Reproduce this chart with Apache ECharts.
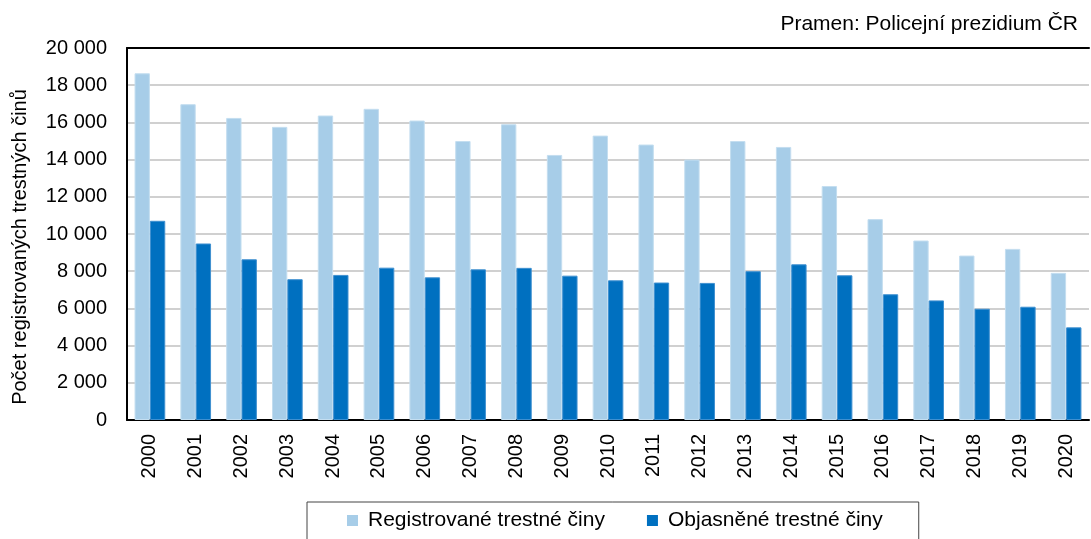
<!DOCTYPE html>
<html><head><meta charset="utf-8">
<script src="https://cdn.jsdelivr.net/npm/echarts@6/dist/echarts.min.js"></script>
<style>html,body{margin:0;padding:0;background:#fff}#c{width:1091px;height:539px}</style>
</head><body><div id="c"></div>
<script>
const years = ['2000','2001','2002','2003','2004','2005','2006','2007','2008','2009','2010','2011','2012','2013','2014','2015','2016','2017','2018','2019','2020'];
const registrovane = [18640,16980,16240,15760,16370,16730,16100,15000,15900,14250,15290,14810,14000,15000,14680,12580,10800,9650,8840,9200,7910];
const objasnene = [10710,9490,8640,7570,7800,8190,7670,8100,8180,7760,7510,7390,7370,8000,8370,7780,6760,6430,5980,6090,4980];
const seriesNames = ['Registrované trestné činy','Objasněné trestné činy'];
const yTicks = {min:0, max:20000, interval:2000};
const sourceText = 'Pramen: Policejní prezidium ČR';
const yTitle = 'Počet registrovaných trestných činů';

const font = 'Liberation Sans, Arial, sans-serif';
const fmt = v => String(v).replace(/\B(?=(\d{3})+(?!\d))/g, ' ');
const chart = echarts.init(document.getElementById('c'));
chart.setOption({
  animation:false,
  textStyle:{fontFamily:font},
  title:{text:sourceText, right:8, top:9, textStyle:{fontSize:21, fontWeight:'normal', color:'#000', fontFamily:font}},
  legend:{
    data:seriesNames, left:307, top:502, orient:'horizontal',
    borderColor:'#444', borderWidth:1, padding:[8,36,20,40],
    itemWidth:11, itemHeight:11, itemGap:42, icon:'rect',
    itemStyle:{borderWidth:0},
    textStyle:{fontSize:21, color:'#000', fontFamily:font, padding:[0,0,0,5]}
  },
  graphic:[{
    type:'text', x:20, y:247, rotation:Math.PI/2,
    style:{text:yTitle, fontSize:20, fill:'#000', fontFamily:font, align:'center', verticalAlign:'middle'}
  }],
  grid:{left:127, right:2, top:48, bottom:119, containLabel:false},
  xAxis:[{
    type:'category', data:years,
    axisLine:{lineStyle:{color:'#000', width:2}},
    axisTick:{show:false},
    axisLabel:{rotate:90, fontSize:20, color:'#000', margin:14, fontFamily:font}
  },{
    type:'category', data:years, position:'top',
    axisLine:{show:true, lineStyle:{color:'#000', width:2}},
    axisTick:{show:false}, axisLabel:{show:false}
  }],
  yAxis:{
    type:'value', min:yTicks.min, max:yTicks.max, interval:yTicks.interval,
    axisLine:{show:true, lineStyle:{color:'#000', width:2}},
    axisTick:{show:false},
    axisLabel:{fontSize:20, color:'#000', margin:20, formatter:fmt, fontFamily:font},
    splitLine:{lineStyle:{color:'#d0d0d0', width:2}}
  },
  series:[
    {name:seriesNames[0], type:'bar', data:registrovane, barGap:'0%', barCategoryGap:'33%',
     itemStyle:{color:'#a7cde8', borderColor:'#c4def0', borderWidth:1}},
    {name:seriesNames[1], type:'bar', data:objasnene, barGap:'0%', barCategoryGap:'33%',
     itemStyle:{color:'#0070c0', borderColor:'#3f90d0', borderWidth:1}}
  ]
});
</script></body></html>
